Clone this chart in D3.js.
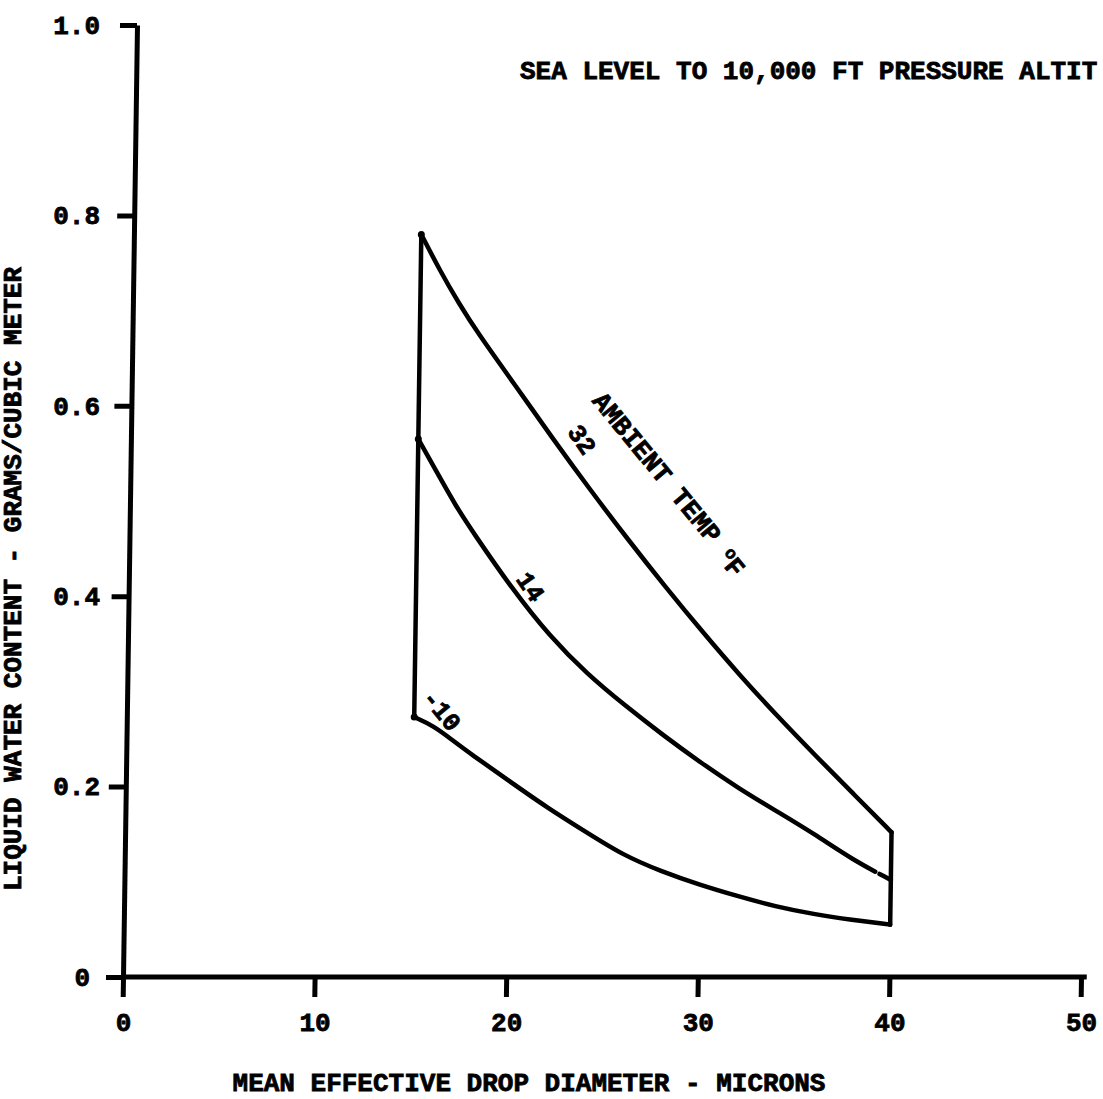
<!DOCTYPE html>
<html>
<head>
<meta charset="utf-8">
<script src="https://cdn.jsdelivr.net/npm/d3@7"></script>
<style>
  body { margin: 0; background: #fff; }
  svg text {
    font-family: "Liberation Mono", "Courier New", monospace;
    font-weight: bold;
    font-size: 26px;
    fill: #000;
    stroke: #000;
    stroke-width: 0.8px;
  }
  .axis line, .axis path { stroke: #000; stroke-width: 5px; }
</style>
</head>
<body>
<div id="chart"></div>
<script>
let diameters  = [15, 16, 17, 18, 20, 22, 24, 26, 28, 30, 32, 34, 36, 38, 40];
let lwc32      = [0.78, 0.742, 0.708, 0.677, 0.622, 0.566, 0.512, 0.46, 0.41, 0.362, 0.316, 0.273, 0.232, 0.192, 0.152];
let lwc14      = [0.565, 0.53, 0.495, 0.465, 0.408, 0.358, 0.318, 0.285, 0.254, 0.225, 0.198, 0.174, 0.15, 0.123, 0.102];
let lwcMinus10 = [0.273, 0.264, 0.249, 0.234, 0.206, 0.178, 0.153, 0.128, 0.111, 0.097, 0.085, 0.074, 0.066, 0.06, 0.055];

let tempLabels  = ["32", "14", "-10"];
let xTicks      = [0, 10, 20, 30, 40, 50];
let xTickLabels = ["0", "10", "20", "30", "40", "50"];
let yTicks      = [0, 0.2, 0.4, 0.6, 0.8, 1.0];
let yTickLabels = ["0", "0.2", "0.4", "0.6", "0.8", "1.0"];

// the scan cuts the title off at the right edge
let title  = "SEA LEVEL TO 10,000 FT PRESSURE ALTIT",
    xTitle = "MEAN EFFECTIVE DROP DIAMETER - MICRONS",
    yTitle = "LIQUID WATER CONTENT - GRAMS/CUBIC METER";

let width  = 1103,
    height = 1099;

let x = d3.scaleLinear().domain([0, 50]).range([123, 1081]),
    y = d3.scaleLinear().domain([0, 1]).range([977, 25]);

let svg =
  d3.select("#chart")
    .append("svg")
      .attr("width", width)
      .attr("height", height);

// the scanned page leans: verticals drift right towards the top
let lean = Math.atan(-14 / 952) * 180 / Math.PI;

let plot =
  svg.append("g")
    .attr("transform", translate(x(0), y(0)) + " skewX(" + lean + ") " + translate(-x(0), -y(0)));

// axis lines (labels drawn unskewed further down)
let xAxis =
  plot.append("g")
    .attr("class", "axis")
    .attr("transform", translate(0, y(0)))
    .call(d3.axisBottom(x).tickValues(xTicks).tickSize(20).tickSizeOuter(0).tickFormat(""));
xAxis.select(".domain").remove();
xAxis.append("line")
    .attr("x1", x(0))
    .attr("x2", x(50.3));

plot.append("g")
    .attr("class", "axis")
    .attr("transform", translate(x(0), 0))
    .call(d3.axisLeft(y).tickValues(yTicks).tickSize(17).tickSizeOuter(0).tickFormat(""));

let xLabels =
  svg.append("g")
    .attr("transform", translate(0, y(0)))
    .call(d3.axisBottom(x).tickValues(xTicks).tickSize(20).tickPadding(16)
            .tickFormat(function(d, i) { return xTickLabels[i]; }));
xLabels.select(".domain").remove();
xLabels.selectAll("line").remove();

let yLabels =
  svg.append("g")
    .attr("transform", translate(x(0), 0))
    .call(d3.axisLeft(y).tickValues(yTicks).tickSize(17).tickPadding(6)
            .tickFormat(function(d, i) { return yTickLabels[i]; }));
yLabels.select(".domain").remove();
yLabels.selectAll("line").remove();
yLabels.selectAll(".tick text")
    .filter(function(d) { return d === 0; })
    .attr("x", -33);

// curves
let series = [lwc32, lwc14, lwcMinus10].map(function(vals) {
  return diameters.map(function(d, i) { return [d, vals[i]]; });
});

let line =
  d3.line()
    .x(function(d) { return x(d[0]); })
    .y(function(d) { return y(d[1]); })
    .curve(d3.curveBasis);

let last = diameters.length - 1;
let leftEdge  = [[diameters[0], lwcMinus10[0]], [diameters[0], lwc32[0]]],
    rightEdge = [[diameters[last], lwcMinus10[last]], [diameters[last], lwc32[last]]];

plot.selectAll(".curve")
    .data(series)
    .enter()
  .append("path")
    .attr("class", "curve")
    .attr("d", line)
    .attr("fill", "none")
    .attr("stroke", "#000")
    .attr("stroke-width", 4.5)
    .attr("stroke-linejoin", "round")
    .attr("stroke-linecap", "round")
    .each(function(d, i) {
      // small break near the end of the 14 curve
      if (i === 1) {
        let len = this.getTotalLength();
        d3.select(this).attr("stroke-dasharray", (len - 18) + " 5 13");
      }
    });

plot.selectAll(".edge")
    .data([leftEdge, rightEdge])
    .enter()
  .append("path")
    .attr("class", "edge")
    .attr("d", d3.line().x(function(d) { return x(d[0]); }).y(function(d) { return y(d[1]); }))
    .attr("fill", "none")
    .attr("stroke", "#000")
    .attr("stroke-width", 4.5)
    .attr("stroke-linecap", "round");

plot.selectAll(".blob")
    .data([[diameters[0], lwc32[0]], [diameters[0], lwc14[0]], [diameters[0], lwcMinus10[0]]])
    .enter()
  .append("circle")
    .attr("cx", function(d) { return x(d[0]); })
    .attr("cy", function(d) { return y(d[1]); })
    .attr("r", 3.5)
    .attr("fill", "#000");

// curve labels, placed relative to a point on each curve
let labelPlace = [
  {at: 22, dx: 30, dy: 1,  angle: 55},
  {at: 20, dx: 19, dy: -2, angle: 55},
  {at: 15, dx: 28, dy: -7, angle: 50}
];

function pointOn(vals, d) {
  let v = d3.scaleLinear().domain(diameters).range(vals)(d);
  return [x(d), y(v)];
}

tempLabels.forEach(function(t, i) {
  let p = pointOn([lwc32, lwc14, lwcMinus10][i], labelPlace[i].at);
  plot.append("text")
      .attr("transform", translate(p[0] + labelPlace[i].dx, p[1] + labelPlace[i].dy) + " rotate(" + labelPlace[i].angle + ")")
      .attr("text-anchor", "middle")
      .attr("dy", "0.35em")
      .style("font-size", "25px")
      .text(t);
});

let ap = pointOn(lwc32, 26);
let ambient =
  plot.append("text")
    .attr("transform", translate(ap[0] + 42, ap[1] - 56) + " rotate(50)")
    .attr("text-anchor", "middle")
    .attr("dy", "0.35em");
ambient.append("tspan").text("AMBIENT TEMP ");
ambient.append("tspan").attr("dy", "-0.35em").style("font-size", "17px").text("o");
ambient.append("tspan").attr("dy", "0.35em").text("F");

// titles
svg.append("text")
    .attr("x", 520)
    .attr("y", 79)
    .text(title);

svg.append("text")
    .attr("x", 529)
    .attr("y", 1091)
    .attr("text-anchor", "middle")
    .text(xTitle);

svg.append("text")
    .attr("transform", translate(21, 579) + " rotate(-90)")
    .attr("text-anchor", "middle")
    .text(yTitle);

function translate(x, y=0) {
  return "translate({x}, {y})"
          .replace("{x}", x)
          .replace("{y}", y);
}
</script>
</body>
</html>
